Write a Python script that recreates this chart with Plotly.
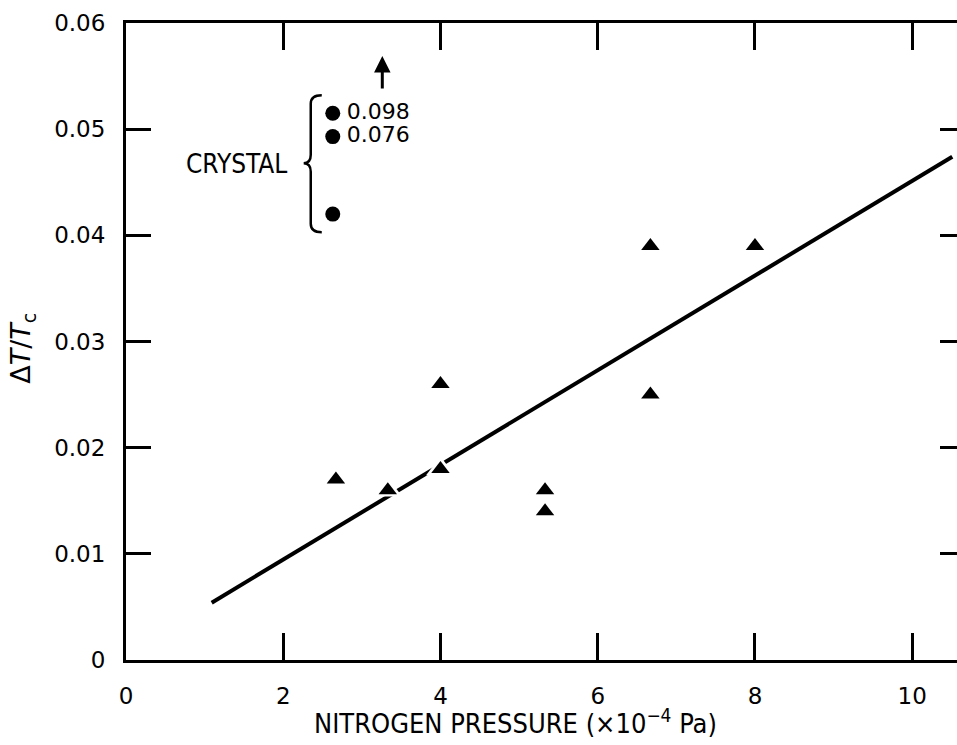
import plotly.graph_objects as go

# ---------------- data ----------------
film_pressure = [2.67, 3.33, 4.0, 4.0, 5.33, 5.33, 6.67, 6.67, 8.0]
film_dT = [0.017, 0.016, 0.026, 0.018, 0.016, 0.014, 0.039, 0.025, 0.039]

crystal_pressure = [2.63, 2.63, 2.63]
crystal_dT = [0.0515, 0.0493, 0.042]
crystal_labels = ["0.098", "0.076"]  # off-scale values of the top two points

fit_pressure = [1.09, 10.51]
fit_dT = [0.0054, 0.0474]

x_ticks = [0, 2, 4, 6, 8, 10]
x_ticktext = ["0", "2", "4", "6", "8", "10"]
y_ticks = [0, 0.01, 0.02, 0.03, 0.04, 0.05, 0.06]
y_ticktext = ["0", "0.01", "0.02", "0.03", "0.04", "0.05", "0.06"]

FONT = "DejaVu Sans, Liberation Sans, Arial"
NARROW = "Liberation Sans Narrow, DejaVu Sans Condensed, Liberation Sans, Arial"

fig = go.Figure()

# fitted line
fig.add_trace(go.Scatter(x=fit_pressure, y=fit_dT, mode="lines",
                         line=dict(color="black", width=4), hoverinfo="skip"))
# white halo behind triangles (gaps in the line)
fig.add_trace(go.Scatter(x=film_pressure, y=film_dT, mode="markers",
                         marker=dict(symbol="triangle-up", size=25, color="white"),
                         hoverinfo="skip"))
# film points
fig.add_trace(go.Scatter(x=film_pressure, y=film_dT, mode="markers",
                         marker=dict(symbol="triangle-up", size=16, color="black")))
# crystal points
fig.add_trace(go.Scatter(x=crystal_pressure, y=crystal_dT, mode="markers",
                         marker=dict(symbol="circle", size=15, color="black")))
# crystal value labels
fig.add_trace(go.Scatter(x=crystal_pressure[:2], y=crystal_dT[:2], mode="text",
                         text=["&nbsp;&nbsp;" + t for t in crystal_labels],
                         textposition="middle right",
                         textfont=dict(family=FONT, size=22, color="black"),
                         hoverinfo="skip"))
# helper trace for right-hand ticks
fig.add_trace(go.Scatter(x=[0], y=[0], yaxis="y2", mode="markers",
                         marker=dict(opacity=0), hoverinfo="skip"))

# brace for CRYSTAL
xe, xm, xt = 2.49, 2.35, 2.26
yt, ymid, yb = 0.0532, 0.0468, 0.0403
d = 0.0008
brace = (f"M{xe},{yt} Q{xm},{yt} {xm},{yt-d} L{xm},{ymid+d} "
         f"Q{xm},{ymid} {xt},{ymid} Q{xm},{ymid} {xm},{ymid-d} "
         f"L{xm},{yb+d} Q{xm},{yb} {xe},{yb}")
fig.add_shape(type="path", path=brace, xref="x", yref="y",
              line=dict(color="black", width=2.5))

fig.add_annotation(x=1.40, y=0.0467, xref="x", yref="y", text="CRYSTAL",
                   showarrow=False, font=dict(family=NARROW, size=26, color="black"))
# arrow indicating off-scale values
fig.add_annotation(x=3.26, y=0.0569, ax=3.26, ay=0.0537, xref="x", yref="y",
                   axref="x", ayref="y", text="", showarrow=True,
                   arrowhead=2, arrowsize=1.1, arrowwidth=3, arrowcolor="black")

# axis titles
fig.add_annotation(x=0.469, y=-0.097, xref="paper", yref="paper",
                   text="NITROGEN PRESSURE (×10<sup>−4</sup> Pa)", showarrow=False,
                   xanchor="center", yanchor="middle",
                   font=dict(family=NARROW, size=27, color="black"))
fig.add_annotation(x=-0.124, y=0.49, xref="paper", yref="paper",
                   text="Δ<i>T</i>/<i>T</i><sub>c</sub>", showarrow=False,
                   textangle=-90, xanchor="center", yanchor="middle",
                   font=dict(family=FONT, size=27, color="black"))

fig.update_layout(
    width=957, height=745,
    margin=dict(l=126, r=0, t=23, b=85),
    paper_bgcolor="white", plot_bgcolor="white",
    showlegend=False,
    xaxis=dict(range=[0, 10.57], tickvals=x_ticks, ticktext=x_ticktext,
               ticks="inside", ticklen=27, tickwidth=3, tickcolor="black",
               showline=True, linewidth=3, linecolor="black", mirror="ticks",
               showgrid=False, zeroline=False, ticklabelstandoff=13,
               tickfont=dict(family=FONT, size=23, color="black")),
    yaxis=dict(range=[0, 0.06], tickvals=y_ticks, ticktext=y_ticktext,
               ticks="inside", ticklen=25, tickwidth=3, tickcolor="black",
               showline=True, linewidth=3, linecolor="black", mirror=False,
               showgrid=False, zeroline=False, ticklabelstandoff=13,
               tickfont=dict(family=FONT, size=23, color="black")),
    yaxis2=dict(range=[0, 0.06], overlaying="y", side="right",
                tickvals=[0.01, 0.02, 0.03, 0.04, 0.05], showticklabels=False,
                ticks="inside", ticklen=17, tickwidth=3, tickcolor="black",
                showline=False, showgrid=False, zeroline=False),
)

fig.write_html("out.html")
